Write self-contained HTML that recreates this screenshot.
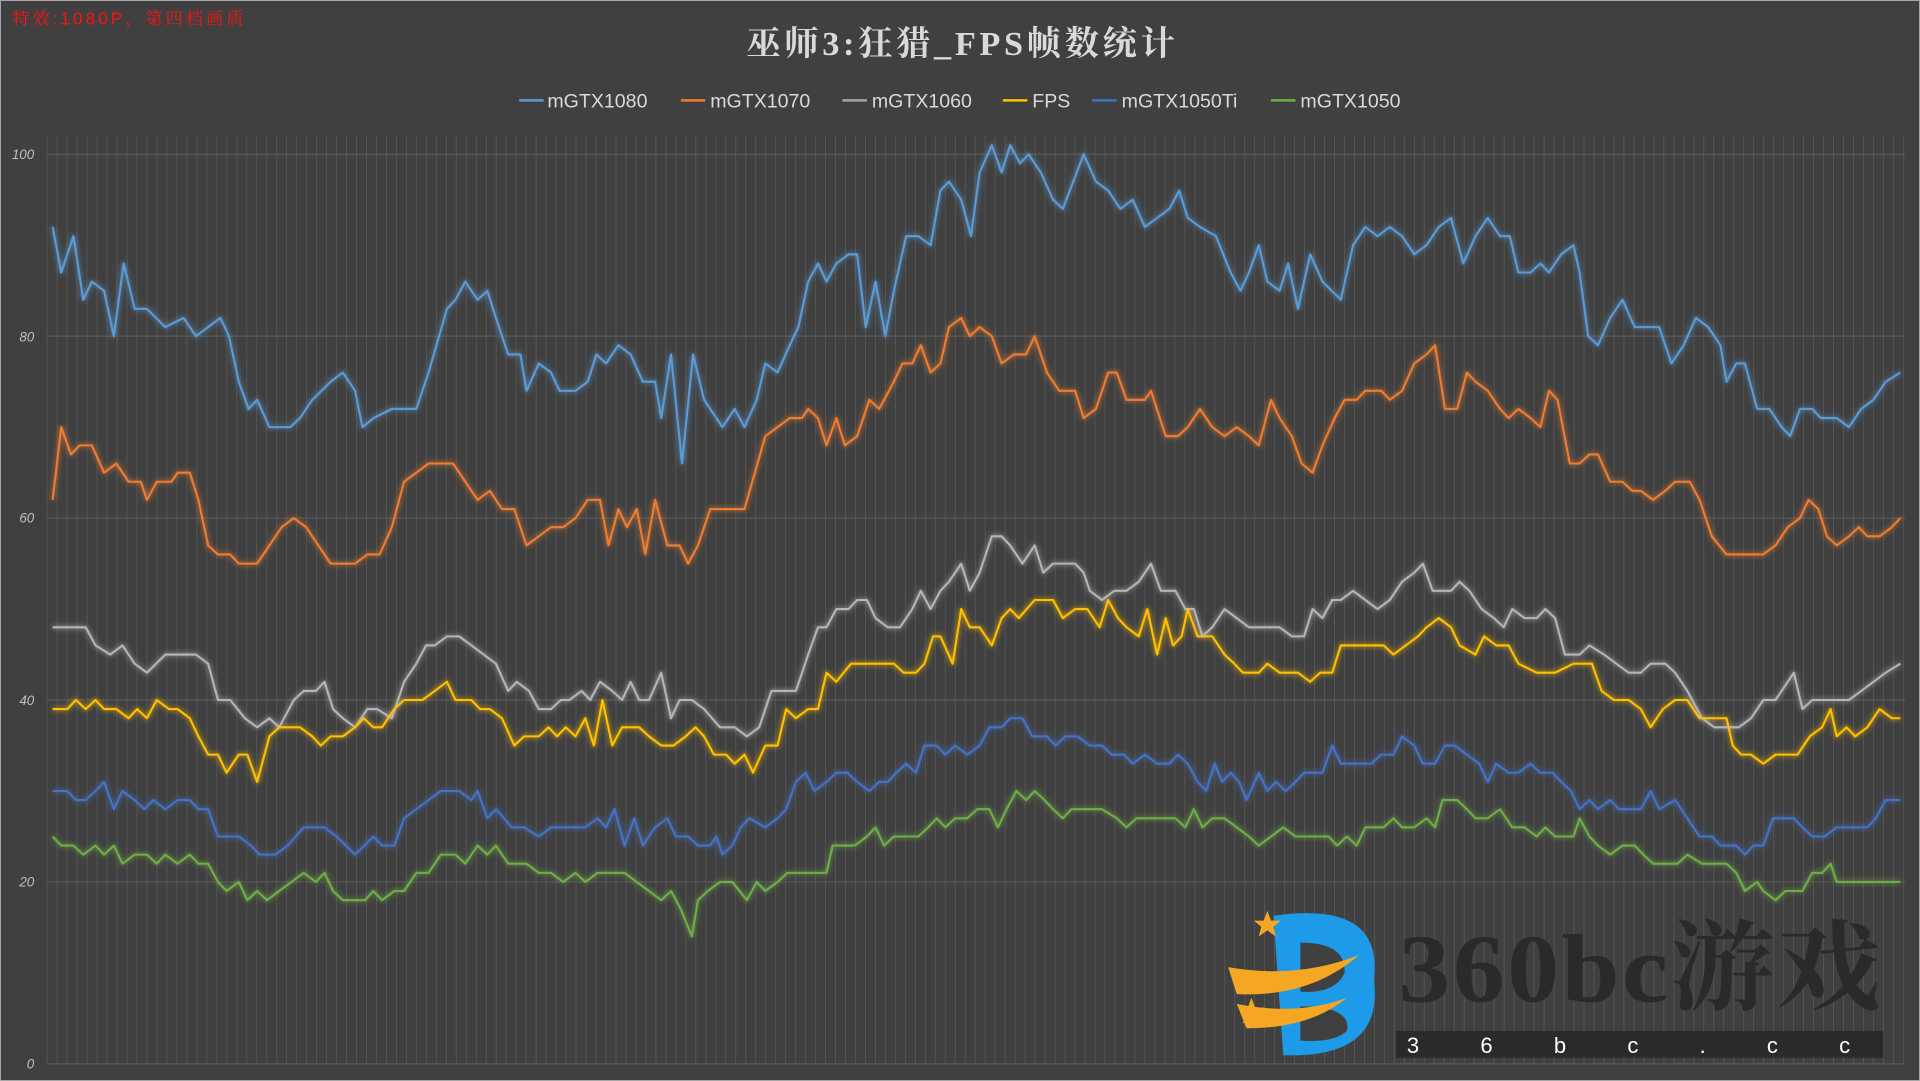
<!DOCTYPE html>
<html><head><meta charset="utf-8"><style>
html,body{margin:0;padding:0;background:#404040;}
svg{display:block;}
</style></head><body>
<svg id="c" width="1920" height="1081" viewBox="0 0 1568 883" preserveAspectRatio="none" xmlns="http://www.w3.org/2000/svg">
<defs>
<filter id="g" x="-5%" y="-5%" width="110%" height="110%"><feGaussianBlur stdDeviation="2.2" result="b"/><feMerge><feMergeNode in="b"/><feMergeNode in="SourceGraphic"/></feMerge></filter>
</defs>
<rect x="0" y="0" width="1568" height="883" fill="#404040" stroke="#b0b0b0" stroke-width="1.5"/>
<g id="grid"></g>
<text x="10" y="20" fill="#ff1010" font-size="14" letter-spacing="2.5" font-family="'Liberation Sans','Noto Serif CJK SC',serif">特效:1080P，第四档画质</text>
<text x="786" y="45" fill="#d9d9d9" font-size="28" font-weight="bold" letter-spacing="3" text-anchor="middle" font-family="'Liberation Serif','Noto Serif CJK SC',serif">巫师3:狂猎_FPS帧数统计</text>
<g font-family="'Liberation Sans',sans-serif" font-size="16" fill="#d9d9d9">
<line x1="424" y1="82" x2="444" y2="82" stroke="#5b9bd5" stroke-width="2"/><text x="447" y="88">mGTX1080</text>
<line x1="556" y1="82" x2="576" y2="82" stroke="#ed7d31" stroke-width="2"/><text x="580" y="88">mGTX1070</text>
<line x1="688" y1="82" x2="708" y2="82" stroke="#a5a5a5" stroke-width="2"/><text x="712" y="88">mGTX1060</text>
<line x1="819" y1="82" x2="839" y2="82" stroke="#ffc000" stroke-width="2"/><text x="843" y="88">FPS</text>
<line x1="892" y1="82" x2="912" y2="82" stroke="#4472c4" stroke-width="2"/><text x="916" y="88">mGTX1050Ti</text>
<line x1="1038" y1="82" x2="1058" y2="82" stroke="#70ad47" stroke-width="2"/><text x="1062" y="88">mGTX1050</text>
</g>
<g font-family="'Liberation Sans',sans-serif" font-size="11" font-style="italic" fill="#bfbfbf" text-anchor="end">
<text x="28" y="130">100</text><text x="28" y="279">80</text><text x="28" y="427">60</text><text x="28" y="576">40</text><text x="28" y="724">20</text><text x="28" y="873">0</text>
</g>
<g id="series" fill="none" stroke-width="1.7" stroke-linejoin="round" filter="url(#g)"></g>
<!-- logo -->
<g>
<path d="M1040 748 Q1130 735 1122 800 Q1130 860 1060 862 L1048 862 Z" fill="#1e9be8"/>
<path d="M1062 770 Q1100 770 1098 795 Q1090 812 1062 810 Z M1062 822 Q1104 822 1100 842 Q1090 852 1062 850 Z" fill="#404040"/>
<path d="M1003 790 Q1060 800 1110 780 Q1070 815 1010 812 Z" fill="#f5a623"/>
<path d="M1010 820 Q1060 830 1100 815 Q1070 840 1018 840 Z" fill="#f5a623"/>
<polygon points="1035,744 1038,752 1046,752 1040,757 1042,765 1035,760 1028,765 1030,757 1024,752 1032,752" fill="#f5a623"/>
<polygon points="1022,815 1025,823 1033,823 1027,828 1029,836 1022,831 1015,836 1017,828 1011,823 1019,823" fill="#f5a623"/>
<text x="1142" y="818" fill="#2a2a2a" font-size="80" font-weight="bold" letter-spacing="2" textLength="396" lengthAdjust="spacingAndGlyphs" font-family="'Liberation Serif','Noto Serif CJK SC',serif">360bc游戏</text>
<rect x="1140" y="842" width="398" height="22" fill="#2a2a2a"/>
<text x="1149" y="860" fill="#ffffff" font-size="18" font-family="'Liberation Sans',sans-serif" letter-spacing="50">36bc.cc</text>
</g>
</svg>
<script>
var NS="http://www.w3.org/2000/svg";
function Y(v){return 869-v*7.43;}
var grid=document.getElementById('grid');
for(var x=38.5;x<=1556;x+=8.15){var l=document.createElementNS(NS,'line');l.setAttribute('x1',x);l.setAttribute('x2',x);l.setAttribute('y1',111);l.setAttribute('y2',869);l.setAttribute('stroke','#555');l.setAttribute('stroke-width','0.8');grid.appendChild(l);}
[100,80,60,40,20,0].forEach(function(v){var l=document.createElementNS(NS,'line');l.setAttribute('x1',38);l.setAttribute('x2',1556);l.setAttribute('y1',Y(v));l.setAttribute('y2',Y(v));l.setAttribute('stroke','#5e5e5e');l.setAttribute('stroke-width','0.8');grid.appendChild(l);});
var S=[
["#5b9bd5","43:92,50:87,60:91,68:84,75:86,85:85,93:80,101:88,110:83,120:83,135:81,150:82,160:80,180:82,187:80,195:75,203:72,210:73,220:70,237:70,245:71,255:73,270:75,280:76,290:74,296:70,305:71,320:72,340:72,350:76,365:83,372:84,380:86,390:84,398:85,405:82,415:78,425:78,430:74,440:77,450:76,457:74,470:74,480:75,487:78,495:77,505:79,515:78,525:75,535:75,540:71,548:78,557:66,566:78,575:73,590:70,600:72,608:70,618:73,625:77,635:76,645:79,652:81,660:86,668:88,675:86,683:88,693:89,700:89,707:81,715:86,723:80,730:85,740:91,750:91,760:90,768:96,775:97,785:95,793:91,800:98,810:101,818:98,825:101,833:99,840:100,850:98,860:95,868:94,885:100,895:97,905:96,915:94,925:95,935:92,945:93,955:94,963:96,970:93,980:92,993:91,1005:87,1013:85,1020:87,1028:90,1035:86,1045:85,1052:88,1060:83,1070:89,1080:86,1095:84,1105:90,1115:92,1125:91,1135:92,1145:91,1155:89,1165:90,1175:92,1185:93,1195:88,1205:91,1215:93,1225:91,1233:91,1240:87,1250:87,1258:88,1265:87,1275:89,1285:90,1290:87,1297:80,1305:79,1315:82,1325:84,1335:81,1355:81,1365:77,1375:79,1385:82,1395:81,1405:79,1410:75,1418:77,1425:77,1435:72,1445:72,1455:70,1462:69,1470:72,1480:72,1487:71,1500:71,1510:70,1520:72,1530:73,1540:75,1552:76"],
["#ed7d31","43:62,50:70,58:67,65:68,75:68,85:65,95:66,105:64,115:64,120:62,128:64,140:64,145:65,155:65,162:62,170:57,178:56,188:56,195:55,210:55,220:57,230:59,240:60,250:59,260:57,270:55,290:55,300:56,310:56,320:59,330:64,340:65,350:66,370:66,380:64,390:62,400:63,410:61,420:61,430:57,440:58,450:59,460:59,470:60,480:62,490:62,497:57,505:61,512:59,520:61,527:56,535:62,545:57,555:57,562:55,570:57,580:61,590:61,600:61,608:61,625:69,635:70,645:71,655:71,660:72,668:71,675:68,683:71,690:68,700:69,710:73,718:72,730:75,737:77,745:77,752:79,760:76,768:77,775:81,785:82,792:80,800:81,810:80,818:77,828:78,838:78,845:80,855:76,865:74,878:74,885:71,895:72,905:76,912:76,920:73,935:73,940:74,952:69,962:69,970:70,980:72,990:70,1000:69,1010:70,1020:69,1028:68,1038:73,1045:71,1055:69,1063:66,1072:65,1080:68,1090:71,1098:73,1108:73,1115:74,1128:74,1135:73,1145:74,1155:77,1165:78,1172:79,1180:72,1190:72,1198:76,1205:75,1215:74,1225:72,1232:71,1240:72,1250:71,1258:70,1265:74,1272:73,1282:66,1290:66,1298:67,1305:67,1315:64,1325:64,1333:63,1340:63,1350:62,1360:63,1368:64,1380:64,1388:62,1398:58,1410:56,1420:56,1440:56,1450:57,1460:59,1470:60,1477:62,1485:61,1492:58,1500:57,1510:58,1518:59,1525:58,1535:58,1545:59,1552:60"],
["#b5b5b5","43:48,70:48,78:46,90:45,100:46,110:44,120:43,135:45,160:45,170:44,178:40,188:40,200:38,210:37,220:38,228:37,240:40,248:41,258:41,265:42,272:39,280:38,290:37,300:39,308:39,320:38,330:42,340:44,348:46,355:46,365:47,375:47,385:46,395:45,405:44,415:41,422:42,432:41,440:39,450:39,458:40,465:40,475:41,482:40,490:42,500:41,508:40,515:42,522:40,530:40,540:43,548:38,555:40,565:40,575:39,588:37,600:37,610:36,620:37,630:41,640:41,650:41,660:45,668:48,675:48,683:50,693:50,700:51,708:51,715:49,725:48,735:48,745:50,752:52,760:50,768:52,775:53,785:55,792:52,800:54,810:58,818:58,825:57,835:55,845:57,852:54,860:55,878:55,885:54,890:52,900:51,910:52,920:52,930:53,940:55,948:52,960:52,968:50,975:50,982:47,990:48,1000:50,1010:49,1020:48,1045:48,1055:47,1065:47,1072:50,1080:49,1088:51,1095:51,1105:52,1115:51,1125:50,1135:51,1145:53,1155:54,1162:55,1170:52,1185:52,1192:53,1200:52,1210:50,1220:49,1228:48,1235:50,1245:49,1255:49,1262:50,1270:49,1278:45,1290:45,1298:46,1310:45,1320:44,1330:43,1340:43,1348:44,1360:44,1368:43,1378:41,1390:38,1400:37,1420:37,1430:38,1440:40,1450:40,1460:42,1465:43,1472:39,1480:40,1510:40,1520:41,1530:42,1540:43,1552:44"],
["#ffc000","43:39,55:39,62:40,70:39,78:40,85:39,95:39,105:38,112:39,120:38,128:40,138:39,145:39,155:38,162:36,170:34,178:34,185:32,195:34,202:34,210:31,220:36,228:37,245:37,255:36,262:35,270:36,280:36,290:37,297:38,305:37,312:37,322:39,330:40,345:40,355:41,365:42,372:40,385:40,392:39,400:39,410:38,420:35,428:36,440:36,448:37,455:36,462:37,470:36,478:38,485:35,492:40,500:35,508:37,522:37,530:36,540:35,550:35,560:36,568:37,575:36,583:34,593:34,600:33,608:34,615:32,625:35,635:35,642:39,650:38,660:39,668:39,675:43,683:42,695:44,730:44,738:43,748:43,755:44,762:47,768:47,778:44,785:50,792:48,800:48,810:46,818:49,825:50,832:49,845:51,860:51,868:49,878:50,888:50,898:48,905:51,913:49,920:48,930:47,937:50,945:45,952:49,958:46,965:47,970:50,978:47,990:47,1000:45,1008:44,1015:43,1028:43,1035:44,1045:43,1060:43,1070:42,1078:43,1088:43,1095:46,1130:46,1138:45,1148:46,1158:47,1165:48,1175:49,1185:48,1192:46,1205:45,1212:47,1222:46,1232:46,1240:44,1255:43,1270:43,1285:44,1300:44,1308:41,1318:40,1330:40,1340:39,1348:37,1358:39,1368:40,1378:40,1388:38,1400:38,1410:38,1415:35,1422:34,1430:34,1440:33,1450:34,1468:34,1478:36,1488:37,1495:39,1500:36,1508:37,1515:36,1525:37,1535:39,1545:38,1552:38"],
["#4472c4","43:30,55:30,62:29,70:29,78:30,85:31,93:28,100:30,110:29,118:28,125:29,135:28,145:29,155:29,162:28,170:28,178:25,195:25,205:24,212:23,225:23,235:24,248:26,265:26,275:25,290:23,305:25,312:24,322:24,330:27,340:28,350:29,360:30,375:30,385:29,390:30,398:27,405:28,418:26,428:26,440:25,450:26,470:26,478:26,488:27,495:26,502:28,510:24,518:27,525:24,535:26,545:27,552:25,562:25,570:24,580:24,585:25,590:23,598:24,605:26,612:27,625:26,635:27,642:28,650:31,658:32,665:30,675:31,683:32,692:32,700:31,710:30,718:31,725:31,732:32,740:33,748:32,755:35,765:35,772:34,780:35,790:34,800:35,808:37,818:37,825:38,835:38,843:36,855:36,862:35,870:36,880:36,890:35,900:35,908:34,918:34,925:33,935:34,945:33,955:33,962:34,970:33,978:31,985:30,992:33,998:31,1005:32,1012:31,1018:29,1028:32,1035:30,1042:31,1050:30,1058:31,1065:32,1080:32,1088:35,1095:33,1110:33,1120:33,1128:34,1138:34,1145:36,1155:35,1162:33,1172:33,1180:35,1188:35,1198:34,1208:33,1215:31,1222:33,1232:32,1240:32,1250:33,1258:32,1268:32,1275:31,1283:30,1290:28,1298:29,1305:28,1315:29,1322:28,1340:28,1348:30,1355:28,1368:29,1378:27,1388:25,1398:25,1405:24,1418:24,1425:23,1432:24,1440:24,1448:27,1465:27,1472:26,1480:25,1490:25,1500:26,1525:26,1532:27,1540:29,1552:29"],
["#70ad47","43:25,50:24,60:24,68:23,78:24,85:23,93:24,100:22,110:23,120:23,128:22,135:23,145:22,155:23,162:22,170:22,178:20,185:19,195:20,202:18,210:19,218:18,228:19,238:20,248:21,258:20,265:21,272:19,280:18,298:18,305:19,312:18,322:19,330:19,340:21,350:21,360:23,372:23,380:22,390:24,398:23,405:24,415:22,430:22,440:21,450:21,460:20,470:21,478:20,488:21,510:21,520:20,530:19,540:18,548:19,556:17,565:14,570:18,578:19,588:20,598:20,610:18,618:20,625:19,635:20,643:21,652:21,675:21,680:24,698:24,708:25,715:26,722:24,730:25,750:25,758:26,765:27,772:26,780:27,790:27,798:28,808:28,815:26,822:28,830:30,838:29,845:30,853:29,860:28,868:27,875:28,900:28,912:27,920:26,928:27,960:27,968:26,975:28,982:26,990:27,1000:27,1010:26,1020:25,1028:24,1038:25,1048:26,1058:25,1085:25,1092:24,1100:25,1108:24,1115:26,1130:26,1138:27,1145:26,1155:26,1165:27,1172:26,1178:29,1190:29,1198:28,1205:27,1215:27,1225:28,1235:26,1245:26,1255:25,1262:26,1270:25,1285:25,1290:27,1298:25,1305:24,1315:23,1325:24,1335:24,1342:23,1350:22,1370:22,1378:23,1390:22,1400:22,1410:22,1418:21,1425:19,1435:20,1440:19,1450:18,1458:19,1472:19,1480:21,1488:21,1495:22,1500:20,1552:20"]
];
var g=document.getElementById('series');
S.forEach(function(s){
  var pts=s[1].split(',').map(function(p){var a=p.split(':');return (+a[0])+','+Y(+a[1]).toFixed(1);}).join(' ');
  var pl=document.createElementNS(NS,'polyline');pl.setAttribute('points',pts);pl.setAttribute('stroke',s[0]);g.appendChild(pl);
});
</script>
</body></html>
